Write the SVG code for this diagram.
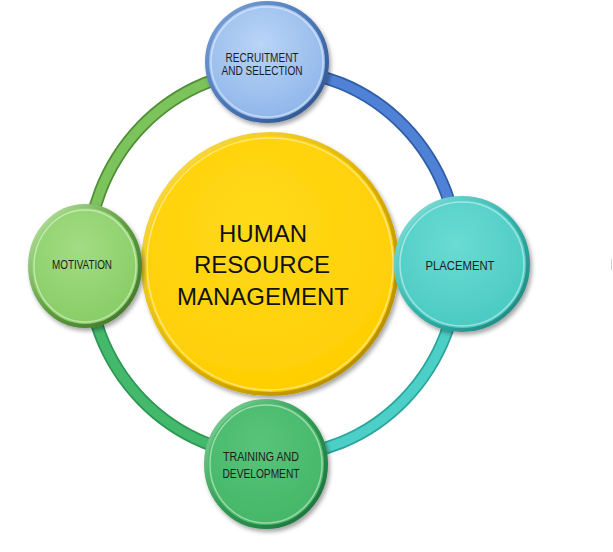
<svg xmlns="http://www.w3.org/2000/svg" width="613" height="552" viewBox="0 0 613 552">
<defs>
<filter id="sh" x="-20%" y="-20%" width="140%" height="140%">
<feDropShadow dx="2" dy="3" stdDeviation="2.2" flood-color="#000" flood-opacity="0.35"/>
</filter>
<radialGradient id="gTop" cx="0.45" cy="0.35" r="0.7"><stop offset="0" stop-color="#b9d5f7"/><stop offset="1" stop-color="#8cb3e8"/></radialGradient>
<radialGradient id="gRight" cx="0.45" cy="0.35" r="0.7"><stop offset="0" stop-color="#6adbd3"/><stop offset="1" stop-color="#48c9c1"/></radialGradient>
<radialGradient id="gBottom" cx="0.45" cy="0.35" r="0.7"><stop offset="0" stop-color="#58c479"/><stop offset="1" stop-color="#43b566"/></radialGradient>
<radialGradient id="gLeft" cx="0.45" cy="0.35" r="0.7"><stop offset="0" stop-color="#a3dc84"/><stop offset="1" stop-color="#86cc63"/></radialGradient>
<radialGradient id="gCenter" cx="0.45" cy="0.35" r="0.75"><stop offset="0" stop-color="#ffda1a"/><stop offset="1" stop-color="#ffcc00"/></radialGradient>
<linearGradient id="rTop" x1="0" y1="0" x2="1" y2="1"><stop offset="0" stop-color="#7fa6dc"/><stop offset="0.5" stop-color="#4b77b8"/><stop offset="1" stop-color="#2c4f86"/></linearGradient>
<linearGradient id="rRight" x1="0" y1="0" x2="1" y2="1"><stop offset="0" stop-color="#8fe5df"/><stop offset="0.5" stop-color="#34b3ab"/><stop offset="1" stop-color="#1f7f79"/></linearGradient>
<linearGradient id="rBottom" x1="0" y1="0" x2="1" y2="1"><stop offset="0" stop-color="#8ad9a0"/><stop offset="0.5" stop-color="#2f9a52"/><stop offset="1" stop-color="#1d6b38"/></linearGradient>
<linearGradient id="rLeft" x1="0" y1="0" x2="1" y2="1"><stop offset="0" stop-color="#c5ebb0"/><stop offset="0.5" stop-color="#5f9e40"/><stop offset="1" stop-color="#3f7028"/></linearGradient>
<linearGradient id="rCenter" x1="0" y1="0" x2="1" y2="1"><stop offset="0" stop-color="#ffe55c"/><stop offset="0.5" stop-color="#e0b400"/><stop offset="1" stop-color="#a88200"/></linearGradient>
</defs>
<style>
.lbl{font-family:"Liberation Sans",Arial,sans-serif;font-size:12.5px;fill:#1c1c1c;text-anchor:middle}
.big{font-family:"Liberation Sans",Arial,sans-serif;font-size:24px;fill:#111;text-anchor:middle}
.arcO{fill:none;stroke-width:13}
.arcI{fill:none;stroke-width:9.5}
.rim{stroke-width:4}
.inner{fill:none;stroke:#ffffff;stroke-opacity:0.45;stroke-width:1.5}
</style>
<rect width="613" height="552" fill="#ffffff"/>
<g id="connectors">
<path class="arcO" stroke="#4f8f34" d="M273,70 A186,193 0 0 0 87,263"/>
<path class="arcI" stroke="#7cc35c" d="M273,70 A186,193 0 0 0 87,263"/>
<path class="arcO" stroke="#2f5ea6" d="M273,70 A186,193 0 0 1 459,263"/>
<path class="arcI" stroke="#4f82d6" d="M273,70 A186,193 0 0 1 459,263"/>
<path class="arcO" stroke="#2aa39b" d="M459,263 A186,193 0 0 1 273,456"/>
<path class="arcI" stroke="#4ccfc6" d="M459,263 A186,193 0 0 1 273,456"/>
<path class="arcO" stroke="#2c9653" d="M273,456 A186,193 0 0 1 87,263"/>
<path class="arcI" stroke="#44b96b" d="M273,456 A186,193 0 0 1 87,263"/>
</g>
<g id="hrm">
<ellipse cx="270" cy="264" rx="127" ry="130" fill="url(#gCenter)" stroke="url(#rCenter)" class="rim" filter="url(#sh)"/>
<ellipse cx="270" cy="264" rx="123" ry="126" class="inner" stroke-opacity="0.35"/>
<text class="big" x="263" y="242">HUMAN</text>
<text class="big" x="262" y="273">RESOURCE</text>
<text class="big" x="263" y="305">MANAGEMENT</text>
</g>
<g id="recruitment">
<ellipse cx="267" cy="62" rx="60" ry="59" fill="url(#gTop)" stroke="url(#rTop)" class="rim" filter="url(#sh)"/>
<ellipse cx="267" cy="62" rx="56" ry="55" class="inner"/>
<text class="lbl" x="262" y="62" textLength="73" lengthAdjust="spacingAndGlyphs">RECRUITMENT</text>
<text class="lbl" x="262" y="75" textLength="81" lengthAdjust="spacingAndGlyphs">AND SELECTION</text>
</g>
<g id="placement">
<ellipse cx="462" cy="264" rx="66" ry="66" fill="url(#gRight)" stroke="url(#rRight)" class="rim" filter="url(#sh)"/>
<ellipse cx="462" cy="264" rx="62" ry="62" class="inner"/>
<text class="lbl" x="460" y="270" textLength="69" lengthAdjust="spacingAndGlyphs">PLACEMENT</text>
</g>
<g id="training">
<ellipse cx="266" cy="464" rx="60" ry="63" fill="url(#gBottom)" stroke="url(#rBottom)" class="rim" filter="url(#sh)"/>
<ellipse cx="266" cy="464" rx="56" ry="59" class="inner"/>
<text class="lbl" x="261" y="461" textLength="76" lengthAdjust="spacingAndGlyphs">TRAINING AND</text>
<text class="lbl" x="261" y="478" textLength="77" lengthAdjust="spacingAndGlyphs">DEVELOPMENT</text>
</g>
<g id="motivation">
<ellipse cx="85" cy="266" rx="55" ry="60" fill="url(#gLeft)" stroke="url(#rLeft)" class="rim" filter="url(#sh)"/>
<ellipse cx="85" cy="266" rx="51" ry="56" class="inner"/>
<text class="lbl" x="82" y="269" textLength="60" lengthAdjust="spacingAndGlyphs">MOTIVATION</text>
</g>
<line x1="611.5" y1="259" x2="611.5" y2="270" stroke="#d0d0d0" stroke-width="1"/>
</svg>
